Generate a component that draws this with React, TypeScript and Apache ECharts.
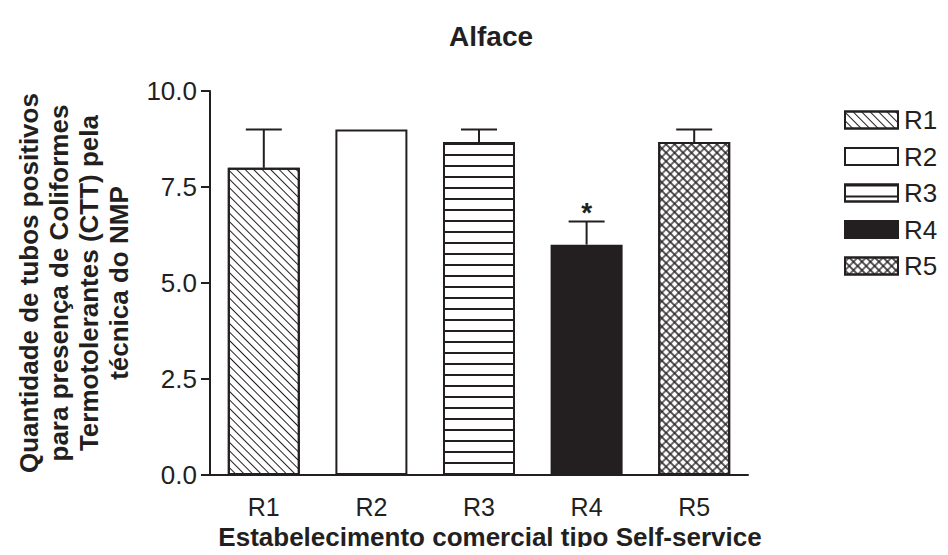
import React, { useEffect, useRef } from "react";
import * as echarts from "echarts";

const categories = ["R1", "R2", "R3", "R4", "R5"];
const means = [8, 9, 8.67, 6, 8.67];
const errors = [1, 0, 0.33, 0.6, 0.33];
const marks = ["", "", "", "*", ""];
const fills = ["#ffffff", "#ffffff", "#ffffff", "#231f20", "#ffffff"];
const yMin = 0;
const yMax = 10;
const yInterval = 2.5;

const INK = "#231f20";
const FONT = "Liberation Sans";

const decals: any[] = [
  { symbol: "rect", symbolSize: 1, dashArrayX: [1, 0], dashArrayY: [1, 4.1], rotation: Math.PI / 4, color: INK },
  "none",
  { symbol: "rect", symbolSize: 1, dashArrayX: [1, 0], dashArrayY: [1.5, 8.2], rotation: 0, color: INK },
  "none",
  {
    symbol: "path://M0,3.9H10V6.1H0Z M3.9,0H6.1V10H3.9Z",
    symbolSize: 1,
    symbolKeepAspect: false,
    dashArrayX: [5.4, 0],
    dashArrayY: [5.4, 0],
    rotation: Math.PI / 4,
    color: INK,
  },
];

export default function App() {
  const ref = useRef<HTMLDivElement>(null);
  useEffect(() => {
    if (!ref.current) return;
    const chart = echarts.init(ref.current, null, { renderer: "svg" });

    const barSeries = categories.map((name, i) => {
      const item: any = {
        color: fills[i],
        borderColor: INK,
        borderWidth: 2,
      };
      if (decals[i] !== "none") item.decal = decals[i];
      return {
        name,
        type: "bar",
        barWidth: 72,
        barGap: "-100%",
        itemStyle: item,
        data: categories.map((_, j) => (j === i ? means[i] : "-")),
        z: 2,
      };
    });

    const errData = categories.map((_, i) => [i, means[i], errors[i]]);

    chart.setOption({
      animation: false,
      backgroundColor: "#ffffff",
      title: {
        text: "Alface",
        left: 444,
        top: 17,
        textStyle: { fontFamily: FONT, fontSize: 28, fontWeight: "bold", color: INK },
      },
      legend: {
        orient: "vertical",
        left: 839,
        top: 102,
        icon: "rect",
        itemWidth: 53,
        itemHeight: 17,
        itemGap: 10.5,
        selectedMode: false,
        data: categories,
        textStyle: { fontFamily: FONT, fontSize: 26, color: INK, padding: [0, 0, 0, 1] },
      },
      grid: { left: 210, right: 200, top: 91, bottom: 71, containLabel: false },
      xAxis: {
        type: "category",
        data: categories,
        axisLine: { show: true, lineStyle: { color: INK, width: 2 } },
        axisTick: { show: false },
        axisLabel: { fontFamily: FONT, fontSize: 25, color: INK, margin: 19 },
        name: "Estabelecimento comercial tipo Self-service",
        nameLocation: "middle",
        nameGap: 48,
        nameTextStyle: { fontFamily: FONT, fontSize: 26, fontWeight: "bold", color: INK, padding: [0, 0, 0, 22] },
      },
      yAxis: {
        type: "value",
        min: yMin,
        max: yMax,
        interval: yInterval,
        splitLine: { show: false },
        axisLine: { show: true, lineStyle: { color: INK, width: 2 } },
        axisTick: { show: true, length: 9, lineStyle: { color: INK, width: 2 } },
        axisLabel: {
          fontFamily: FONT,
          fontSize: 26,
          color: INK,
          margin: 13,
          formatter: (v: number) => v.toFixed(1),
        },
        name: "Quantidade de tubos positivos\npara presença de Coliformes\nTermotolerantes (CTT) pela\ntécnica do NMP",
        nameLocation: "middle",
        nameRotate: 90,
        nameGap: 76,
        nameTextStyle: { fontFamily: FONT, fontSize: 26, fontWeight: "bold", color: INK, lineHeight: 30, align: "center" },
      },
      series: [
        ...barSeries,
        {
          type: "custom",
          name: "err",
          z: 5,
          data: errData,
          encode: { x: 0, y: 1 },
          renderItem: (params: any, api: any) => {
            const i = api.value(0);
            const m = api.value(1);
            const e = api.value(2);
            const base = api.coord([i, m]);
            const top = api.coord([i, m + e]);
            const children: any[] = [];
            if (e > 0) {
              children.push({
                type: "line",
                shape: { x1: base[0], y1: base[1], x2: top[0], y2: top[1] },
                style: { stroke: INK, lineWidth: 2 },
              });
              children.push({
                type: "line",
                shape: { x1: top[0] - 18, y1: top[1], x2: top[0] + 18, y2: top[1] },
                style: { stroke: INK, lineWidth: 2 },
              });
            }
            const mk = marks[params.dataIndex];
            if (mk) {
              children.push({
                type: "text",
                style: {
                  text: mk,
                  x: top[0],
                  y: top[1] + 5,
                  align: "center",
                  verticalAlign: "bottom",
                  fontFamily: FONT,
                  fontSize: 28,
                  fontWeight: "bold",
                  fill: INK,
                },
              });
            }
            return { type: "group", children };
          },
        },
      ],
    });
    return () => chart.dispose();
  }, []);
  return <div ref={ref} style={{ width: 948, height: 555, margin: -8 }} />;
}
